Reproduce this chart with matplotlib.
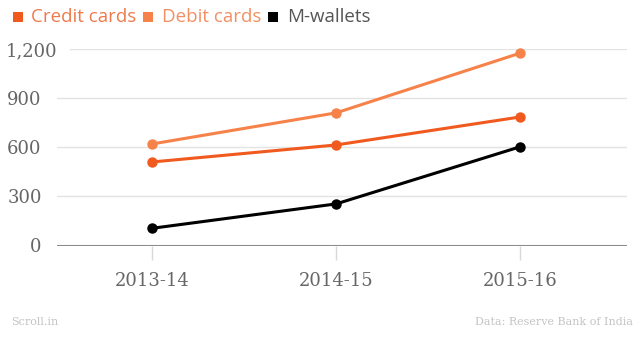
import numpy as np
import matplotlib
matplotlib.use('Agg')
import matplotlib.pyplot as plt
from matplotlib.patches import Rectangle
from matplotlib.transforms import ScaledTranslation

# data
years = ['2013-14', '2014-15', '2015-16']
credit_cards = [510, 614, 785]
debit_cards = [620, 810, 1175]
m_wallets = [105, 254, 603]
series_names = ['Credit cards', 'Debit cards', 'M-wallets']
yticks = [0, 300, 600, 900, 1200]
ytick_labels = ['0', '300', '600', '900', '1,200']

colors = ['#f15a1e', '#f6824a', '#000000']
legend_text_colors = ['#ee7a4c', '#f29063', '#555555']

W, H = 643, 337
fig = plt.figure(figsize=(W / 100, H / 100), dpi=100)
# axes box in pixel coords: x 57..627, y 49..245
ax = fig.add_axes([57 / W, 1 - 245.5 / H, 570 / W, 196.5 / H])

x = np.arange(len(years))
for vals, c in zip([credit_cards, debit_cards, m_wallets], colors):
    ax.plot(x, vals, color=c, lw=2.2, marker='o', ms=6.5, clip_on=False, zorder=3)

ax.set_xlim(-0.516, 2.58)
ax.set_ylim(0, 1200)

# gridlines (the top one starts later, after the wider label)
for v in yticks[1:]:
    xmin = 13 / 570 if v == 1200 else 0
    ax.axhline(v, xmin=xmin, color='#e3e3e3', lw=1, zorder=1)
ax.axhline(0, color='#8c8c8c', lw=2.2, zorder=2)

for s in ax.spines.values():
    s.set_visible(False)

ax.set_yticks(yticks)
ax.set_yticklabels(ytick_labels, family='DejaVu Serif', fontsize=13, color='#666666')
ax.tick_params(axis='y', length=0, pad=11)
# push the 1,200 label to the right like the original
lab = ax.get_yticklabels()[-1]
lab.set_transform(lab.get_transform() + ScaledTranslation(16 / 100, 0, fig.dpi_scale_trans))

ax.set_xticks(x)
ax.set_xticklabels(years, family='DejaVu Serif', fontsize=13, color='#666666')
ax.tick_params(axis='x', length=10, width=1, color='#d8d8d8', pad=9)

# legend drawn by hand along the top
sq_x = [13, 143, 268]
txt_x = [31, 162, 287]
for i, name in enumerate(series_names):
    fig.add_artist(Rectangle((sq_x[i] / W, 1 - 22 / H), 10 / W, 10 / H,
                             transform=fig.transFigure, color=colors[i], lw=0))
    fig.text(txt_x[i] / W, 1 - 17 / H, name, color=legend_text_colors[i], fontsize=13.5,
             family='Open Sans', va='center', ha='left')

# footer
fig.text(11 / W, 1 - 322 / H, 'Scroll.in', family='DejaVu Serif', fontsize=8,
         color='#c4c4c4', va='center', ha='left')
fig.text(633 / W, 1 - 322 / H, 'Data: Reserve Bank of India', family='DejaVu Serif',
         fontsize=8, color='#c4c4c4', va='center', ha='right')

fig.savefig('out.png', dpi=100)
